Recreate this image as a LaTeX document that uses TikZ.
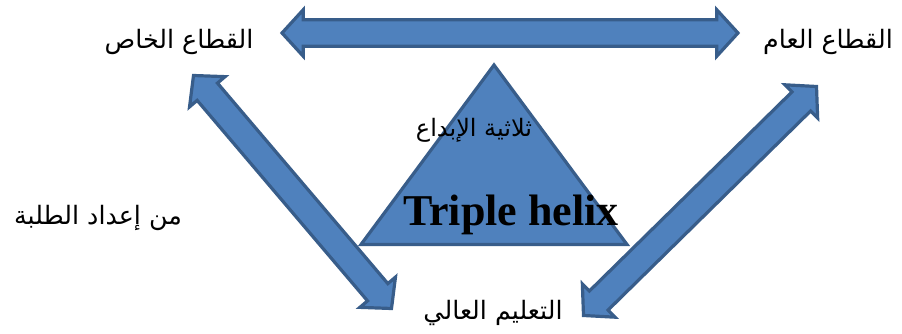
\documentclass[tikz,border=0pt]{standalone}
\usepackage{fontspec}
\setmainfont{Liberation Serif}
\newfontfamily\arabicfont[Script=Arabic]{DejaVu Sans}
\usetikzlibrary{calc}
\TeXXeTstate=1
\definecolor{helixfill}{HTML}{4F81BD}
\definecolor{helixline}{HTML}{385D8A}
\tikzset{
  blockarrow/.style={fill=helixfill, draw=helixline, line width=2.4pt, miter limit=4},
  arlabel/.style={font=\arabicfont\fontsize{19}{22}\selectfont, inner sep=0pt},
}
\newcommand{\headlen}{16pt}
\newcommand{\headwid}{17.5pt}
\newcommand{\shaftwid}{10pt}
% block arrow with a head at both named ends
\newcommand{\dblarrow}[2]{%
  \coordinate (ha) at ($(#1)!\headlen!(#2)$);
  \coordinate (hb) at ($(#2)!\headlen!(#1)$);
  \draw[blockarrow] (#1) -- ($(ha)!\headwid!90:(#2)$) -- ($(ha)!\shaftwid!90:(#2)$)
    -- ($(hb)!\shaftwid!-90:(#1)$) -- ($(hb)!\headwid!-90:(#1)$) -- (#2)
    -- ($(hb)!\headwid!90:(#1)$) -- ($(hb)!\shaftwid!90:(#1)$)
    -- ($(ha)!\shaftwid!-90:(#2)$) -- ($(ha)!\headwid!-90:(#2)$) -- cycle;
}

\begin{document}
\begin{tikzpicture}[x=0.75pt, y=-0.75pt]
        \useasboundingbox (0,0) rectangle (902,334);

        % Triangle
        \draw[blockarrow] (494,65) -- (627,244.5) -- (361,244.5) -- cycle;

        % Labels
        \node[arlabel] (private) at (179,42) {\beginR القطاع الخاص\endR};
        \node[arlabel] (public) at (828,42) {\beginR القطاع العام\endR};
        \node[arlabel] (higher) at (493,313) {\beginR التعليم العالي\endR};
        \node[arlabel, font=\arabicfont\fontsize{18}{22}\selectfont] (triad) at (474,130) {\beginR ثلاثية الإبداع\endR};
        \node[arlabel] (credit) at (98,218) {\beginR من إعداد الطلبة\endR};
        \node[font=\fontsize{33}{36}\selectfont\bfseries, inner sep=0pt] (helix) at (511,215) {Triple helix};

        % Arrow ends
        \coordinate (top-l) at (282,33);
        \coordinate (top-r) at (738,33);
        \coordinate (left-t) at (193.5,75.5);
        \coordinate (left-b) at (391.5,308.5);
        \coordinate (right-t) at (816.5,86.5);
        \coordinate (right-b) at (583.5,315.5);

        % Double arrows
        \dblarrow{top-l}{top-r}
        \dblarrow{left-t}{left-b}
        \dblarrow{right-t}{right-b}
    \end{tikzpicture}
\end{document}
